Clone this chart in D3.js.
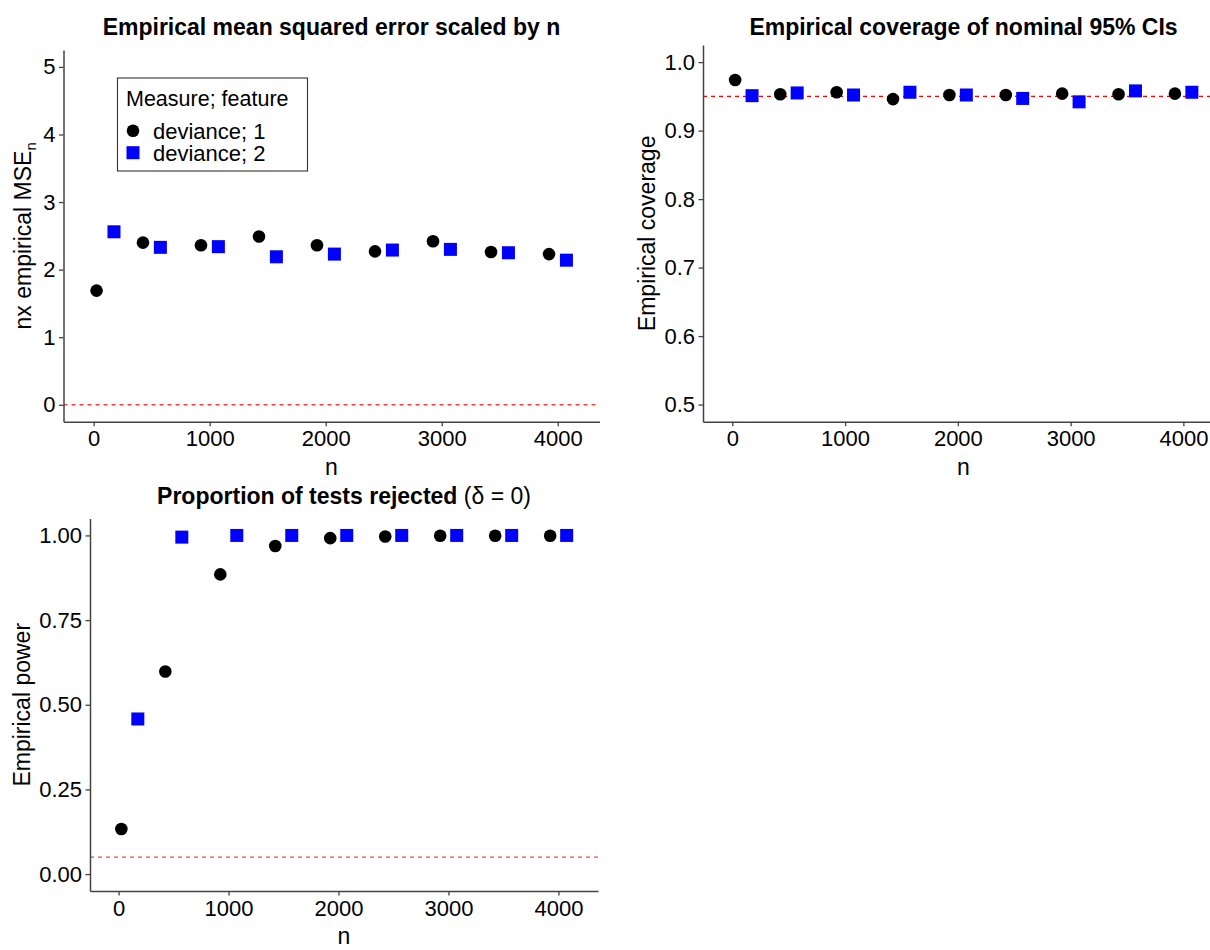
<!DOCTYPE html>
<html>
<head>
<meta charset="utf-8">
<script src="https://cdn.jsdelivr.net/npm/d3@7"></script>
<style>
  body { margin: 0; background: #fff; }
  text { font-family: "Liberation Sans", Arial, Helvetica, sans-serif; fill: #000; }
</style>
</head>
<body>
<div id="chart"></div>
<script>
// sample sizes (both features share them, dodged left/right)
var nVals = [100, 500, 1000, 1500, 2000, 2500, 3000, 3500, 4000];
var xTicks = [0, 1000, 2000, 3000, 4000];

// n x empirical MSE
var mseFeat1 = [1.69, 2.40, 2.36, 2.49, 2.36, 2.27, 2.42, 2.26, 2.23];
var mseFeat2 = [2.56, 2.33, 2.34, 2.19, 2.23, 2.29, 2.30, 2.25, 2.14];

// coverage of nominal 95% CIs
var covFeat1 = [0.974, 0.953, 0.956, 0.946, 0.952, 0.952, 0.954, 0.953, 0.954];
var covFeat2 = [0.951, 0.955, 0.952, 0.956, 0.952, 0.947, 0.942, 0.958, 0.956];

// proportion of tests rejected
var powFeat1 = [0.133, 0.598, 0.885, 0.969, 0.992, 0.997, 0.999, 0.999, 0.999];
var powFeat2 = [0.458, 0.995, 1.0, 1.0, 1.0, 1.0, 1.0, 1.0, 1.0];

var legendTitle = "Measure; feature";
var seriesNames = ["deviance; 1", "deviance; 2"];

var dodge = 75;
var xDomain = [-260, 4360];

var svg = d3.select("#chart")
    .append("svg")
    .attr("width", 1210)
    .attr("height", 950);

svg.append("rect")
    .attr("width", 1210)
    .attr("height", 950)
    .attr("fill", "#fff");

function drawPanel(p) {
    var x = d3.scaleLinear().domain(xDomain).range([p.left, p.right]);
    var y = d3.scaleLinear().domain(p.yDomain).range([p.bottom, p.top]);

    var g = svg.append("g");

    // reference line
    g.append("line")
        .attr("x1", p.left).attr("x2", p.right)
        .attr("y1", y(p.ref)).attr("y2", y(p.ref))
        .attr("stroke", "#ff0000")
        .attr("stroke-opacity", p.refOpacity)
        .attr("stroke-width", 1.4)
        .attr("stroke-dasharray", "4,4");

    // axes
    var xAxis = g.append("g")
        .attr("transform", "translate(0," + p.bottom + ")")
        .call(d3.axisBottom(x).tickValues(xTicks).tickFormat(d3.format("d"))
            .tickSizeInner(4.5).tickSizeOuter(0).tickPadding(4.4));
    var yAxis = g.append("g")
        .attr("transform", "translate(" + p.left + ",0)")
        .call(d3.axisLeft(y).tickValues(p.yTicks).tickFormat(d3.format(p.yFormat))
            .tickSizeInner(4.5).tickSizeOuter(0).tickPadding(3.5));

    [xAxis, yAxis].forEach(function(a) {
        a.select(".domain").attr("stroke", "#444").attr("stroke-width", 1.5);
        a.selectAll(".tick line").attr("stroke", "#444").attr("stroke-width", 1.3);
        a.selectAll(".tick text")
            .attr("font-size", 22)
            .attr("font-family", "Liberation Sans, Arial, sans-serif")
            .attr("fill", "#000");
    });

    // points: feature 1 = black circles, feature 2 = blue squares
    g.selectAll(".pt1")
        .data(nVals.map(function(n, i) { return {n: n, v: p.s1[i]}; }))
        .enter()
        .append("circle")
        .attr("cx", function(d) { return x(d.n - dodge); })
        .attr("cy", function(d) { return y(d.v); })
        .attr("r", 6.3)
        .attr("fill", "#000");

    g.selectAll(".pt2")
        .data(nVals.map(function(n, i) { return {n: n, v: p.s2[i]}; }))
        .enter()
        .append("rect")
        .attr("x", function(d) { return x(d.n + dodge) - 6.5; })
        .attr("y", function(d) { return y(d.v) - 6.5; })
        .attr("width", 13)
        .attr("height", 13)
        .attr("fill", "#0000ff");

    // title
    var t = g.append("text")
        .attr("x", (p.left + p.right) / 2)
        .attr("y", p.titleY)
        .attr("text-anchor", "middle")
        .attr("font-size", 23)
        .attr("font-weight", "bold");
    p.title.forEach(function(part) {
        t.append("tspan").attr("font-weight", part.bold ? "bold" : "normal").text(part.text);
    });

    // x label
    g.append("text")
        .attr("x", (p.left + p.right) / 2)
        .attr("y", p.bottom + 53)
        .attr("text-anchor", "middle")
        .attr("font-size", 23)
        .text("n");

    // y label
    var yl = g.append("text")
        .attr("transform", "translate(" + p.ylabX + "," + ((p.top + p.bottom) / 2) + ") rotate(-90)")
        .attr("text-anchor", "middle")
        .attr("font-size", 23);
    yl.append("tspan").text(p.ylab);
    if (p.ylabSub) {
        yl.append("tspan").attr("font-size", 15).attr("dy", 5).text(p.ylabSub);
    }
    return {x: x, y: y};
}

drawPanel({
    left: 63.5, right: 599.5, top: 50, bottom: 421.7,
    yDomain: [-0.25, 5.25], yTicks: [0, 1, 2, 3, 4, 5], yFormat: "d",
    ref: 0, refOpacity: 0.75,
    s1: mseFeat1, s2: mseFeat2,
    title: [{text: "Empirical mean squared error scaled by n", bold: true}],
    titleY: 35,
    ylab: "nx empirical MSE", ylabSub: "n", ylabX: 31
});

drawPanel({
    left: 703, right: 1224, top: 45, bottom: 421.7,
    yDomain: [0.475, 1.025], yTicks: [0.5, 0.6, 0.7, 0.8, 0.9, 1.0], yFormat: ".1f",
    ref: 0.95, refOpacity: 1,
    s1: covFeat1, s2: covFeat2,
    title: [{text: "Empirical coverage of nominal 95% CIs", bold: true}],
    titleY: 35,
    ylab: "Empirical coverage", ylabX: 655
});

drawPanel({
    left: 90, right: 598, top: 518.5, bottom: 891,
    yDomain: [-0.05, 1.05], yTicks: [0, 0.25, 0.5, 0.75, 1.0], yFormat: ".2f",
    ref: 0.05, refOpacity: 0.75,
    s1: powFeat1, s2: powFeat2,
    title: [{text: "Proportion of tests rejected ", bold: true}, {text: "(\u03b4 = 0)", bold: false}],
    titleY: 503.5,
    ylab: "Empirical power", ylabX: 30
});

// legend inside the first panel
var leg = svg.append("g");
leg.append("rect")
    .attr("x", 117.5).attr("y", 78)
    .attr("width", 190).attr("height", 93)
    .attr("fill", "#fff")
    .attr("stroke", "#333")
    .attr("stroke-width", 1.1);
leg.append("text")
    .attr("x", 126).attr("y", 105.5)
    .attr("font-size", 21.5)
    .text(legendTitle);
leg.append("circle")
    .attr("cx", 133).attr("cy", 130.7).attr("r", 6.3)
    .attr("fill", "#000");
leg.append("rect")
    .attr("x", 126.5).attr("y", 146.2).attr("width", 13).attr("height", 13)
    .attr("fill", "#0000ff");
leg.selectAll(".lab")
    .data(seriesNames)
    .enter()
    .append("text")
    .attr("x", 153)
    .attr("y", function(d, i) { return 138.8 + i * 22; })
    .attr("font-size", 22)
    .text(function(d) { return d; });
</script>
</body>
</html>
